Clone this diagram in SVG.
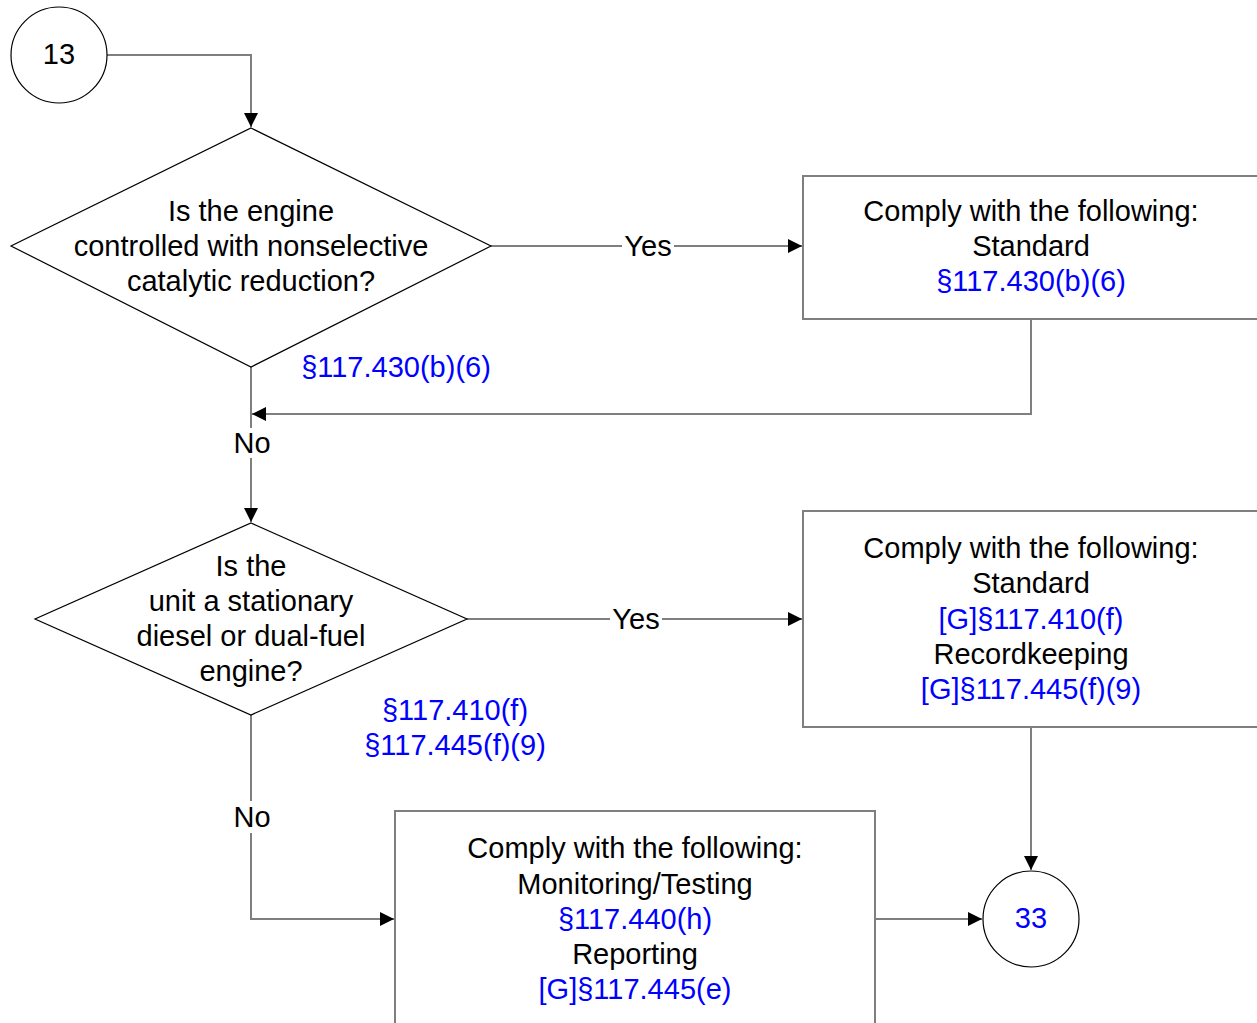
<svg xmlns="http://www.w3.org/2000/svg" width="1257" height="1023" viewBox="0 0 1257 1023">
<defs>
<marker id="arr" markerWidth="14" markerHeight="14" refX="14" refY="7" orient="auto" markerUnits="userSpaceOnUse">
<path d="M0,0 L14,7 L0,14 Z" fill="#000"/>
</marker>
<style>
text{font-family:"Liberation Sans",Arial,sans-serif;font-size:29px;text-anchor:middle;dominant-baseline:central;fill:#000}
.b{fill:#0000ff}
.shape{fill:#fff;stroke:#000;stroke-width:1.2}
.box{fill:#fff;stroke:#7f7f7f;stroke-width:2}
.conn{fill:none;stroke:#7f7f7f;stroke-width:2}
</style>
</defs>
<rect width="1257" height="1023" fill="#fff"/>
<g id="connectors">
<path class="conn" d="M107,55 H251 V127" marker-end="url(#arr)"/>
<path class="conn" d="M491,246 H622 M674,246 H802" marker-end="url(#arr)"/>
<path class="conn" d="M1031,319 V414 H252" marker-end="url(#arr)"/>
<path class="conn" d="M251,367 V428"/>
<path class="conn" d="M251,458 V522" marker-end="url(#arr)"/>
<path class="conn" d="M467,619 H610 M662,619 H802" marker-end="url(#arr)"/>
<path class="conn" d="M1031,727 V870" marker-end="url(#arr)"/>
<path class="conn" d="M251,715 V801"/>
<path class="conn" d="M251,833 V919 H394" marker-end="url(#arr)"/>
<path class="conn" d="M875,919 H982" marker-end="url(#arr)"/>
<text x="648" y="246">Yes</text>
<text x="636" y="619">Yes</text>
<text x="252" y="443">No</text>
<text x="252" y="817">No</text>
<text class="b" x="396" y="367">§117.430(b)(6)</text>
<text class="b" x="455" y="710">§117.410(f)</text>
<text class="b" x="455" y="745">§117.445(f)(9)</text>
</g>
<g id="n13">
<circle class="shape" cx="59" cy="55" r="48"/>
<text x="59" y="54">13</text>
</g>
<g id="d1">
<polygon class="shape" points="251,128 491,246 251,367 11,246"/>
<text x="251" y="211">Is the engine</text>
<text x="251" y="246">controlled with nonselective</text>
<text x="251" y="281">catalytic reduction?</text>
</g>
<g id="b1">
<rect class="box" x="803" y="176" width="470" height="143"/>
<text x="1031" y="211">Comply with the following:</text>
<text x="1031" y="246">Standard</text>
<text class="b" x="1031" y="281">§117.430(b)(6)</text>
</g>
<g id="d2">
<polygon class="shape" points="251,523 467,619 251,715 35,619"/>
<text x="251" y="566">Is the</text>
<text x="251" y="601">unit a stationary</text>
<text x="251" y="636">diesel or dual-fuel</text>
<text x="251" y="671">engine?</text>
</g>
<g id="b2">
<rect class="box" x="803" y="511" width="470" height="216"/>
<text x="1031" y="548">Comply with the following:</text>
<text x="1031" y="583">Standard</text>
<text class="b" x="1031" y="619">[G]§117.410(f)</text>
<text x="1031" y="654">Recordkeeping</text>
<text class="b" x="1031" y="689">[G]§117.445(f)(9)</text>
</g>
<g id="b3">
<rect class="box" x="395" y="811" width="480" height="230"/>
<text x="635" y="848">Comply with the following:</text>
<text x="635" y="884">Monitoring/Testing</text>
<text class="b" x="635" y="919">§117.440(h)</text>
<text x="635" y="954">Reporting</text>
<text class="b" x="635" y="989">[G]§117.445(e)</text>
</g>
<g id="n33">
<circle class="shape" cx="1031" cy="919" r="48"/>
<text class="b" x="1031" y="918">33</text>
</g>
</svg>
